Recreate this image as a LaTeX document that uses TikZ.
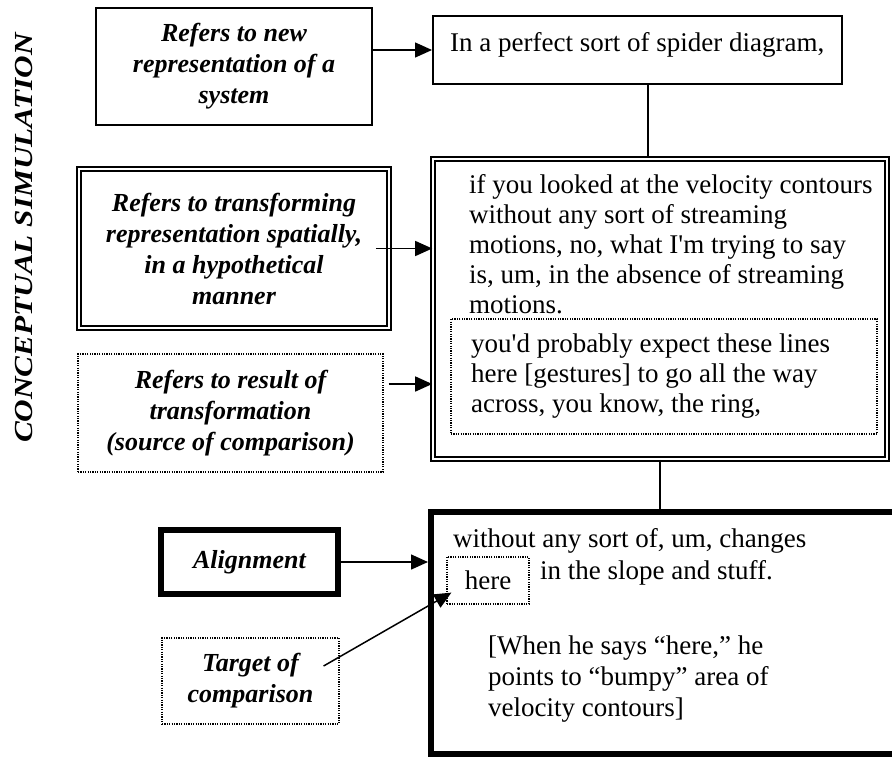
\documentclass[tikz,border=0pt]{standalone}
\usepackage{fontspec}
\setmainfont{Liberation Serif}
\usetikzlibrary{arrows.meta,calc}

\begin{document}
\begin{tikzpicture}[x=1pt,y=-1pt]
            \tikzstyle{plainbox}=[draw,line width=2pt,inner sep=0pt]
            \tikzstyle{dblbox}=[draw,line width=1.6pt,double,double distance=2.6pt,inner sep=0pt]
            \tikzstyle{dotbox}=[draw,line width=1.2pt,dash pattern=on 1.2pt off 1.2pt,inner sep=0pt]
            \tikzstyle{heavybox}=[draw,line width=6pt,inner sep=0pt]
            \tikzstyle{roletext}=[font=\fontsize{26}{31}\selectfont\bfseries\itshape,align=center]
            \tikzstyle{speech}=[font=\fontsize{27}{30}\selectfont,align=left,inner sep=0pt]
            \tikzstyle{pointer}=[line width=1.5pt,-{Triangle[length=17pt,width=15pt]}]
            \useasboundingbox (0,0) rectangle (892,760);
            % side title
            \node[roletext,rotate=90] (title) at (24,238) {\scalebox{1.2}[1]{CONCEPTUAL SIMULATION}};
            % left column
            \node[plainbox,roletext,minimum width=276pt,minimum height=117pt] (newrep) at (234,66.5) {Refers to new\\representation of a\\system};
            \node[dblbox,roletext,minimum width=310pt,minimum height=159pt] (transform) at (234,248.5) {Refers to transforming\\representation spatially,\\in a hypothetical\\manner};
            \node[dotbox,roletext,minimum width=305pt,minimum height=118pt] (source) at (230.5,413) {Refers to result of\\transformation\\(source of comparison)};
            \node[heavybox,roletext,minimum width=177pt,minimum height=64pt] (alignment) at (249.5,562) {Alignment};
            \node[dotbox,roletext,minimum width=177pt,minimum height=86pt] (targetlbl) at (250.5,681) {Target of\\comparison};
            % right column
            \node[plainbox,minimum width=409pt,minimum height=68pt] (spider) at (637.5,50) {};
            \node[speech,anchor=base west] (spidertext) at (450,52) {In a perfect sort of spider diagram,};
            \node[dblbox,minimum width=454pt,minimum height=300pt] (scene) at (660,309) {};
            \node[speech,anchor=north west] (scenetext) at (469,174.5) {if you looked at the velocity contours\\without any sort of streaming\\motions, no, what I\textquotesingle m trying to say\\is, um, in the absence of streaming\\motions.};
            \node[dotbox,minimum width=426pt,minimum height=115pt] (result) at (664,376.5) {};
            \node[speech,anchor=north west] (resulttext) at (471,333.5) {you\textquotesingle d probably expect these lines\\here [gestures] to go all the way\\across, you know, the ring,};
            \node[heavybox,minimum width=474pt,minimum height=242pt] (alignbox) at (668,633) {};
            \node[speech,anchor=base west] (alignline) at (453,547) {without any sort of, um, changes};
            \node[speech,anchor=base west] (slopeline) at (540,579) {in the slope and stuff.};
            \node[dotbox,font=\fontsize{27}{30}\selectfont,minimum width=82pt,minimum height=47pt] (here) at (488,580.5) {here};
            \node[speech,font=\fontsize{27}{31}\selectfont,anchor=north west] (comment) at (488,635.5) {[When he says “here,” he\\points to “bumpy” area of\\velocity contours]};
            % connectors
            \coordinate (s6) at ([xshift=5pt,yshift=29pt]source.east);
            \draw[pointer] (newrep.east |- spider.west) -- (spider.west);
            \draw[line width=1.5pt] ([xshift=10.5pt]spider.south) -- ([xshift=10.5pt]spider.south |- scene.north);
            \draw[pointer] ([xshift=-14pt]transform.east) -- (transform.east -| scene.west);
            \draw[pointer] (s6) -- (s6 -| scene.west);
            \draw[line width=1.5pt] (scene.south) -- (scene.south |- alignbox.north);
            \draw[pointer] (alignment.east) -- (alignment.east -| alignbox.west);
            \draw[pointer] ($(targetlbl.east)+(-16,-15)$) -- ($(here.south west)+(5,-12)$);
        \end{tikzpicture}
\end{document}
